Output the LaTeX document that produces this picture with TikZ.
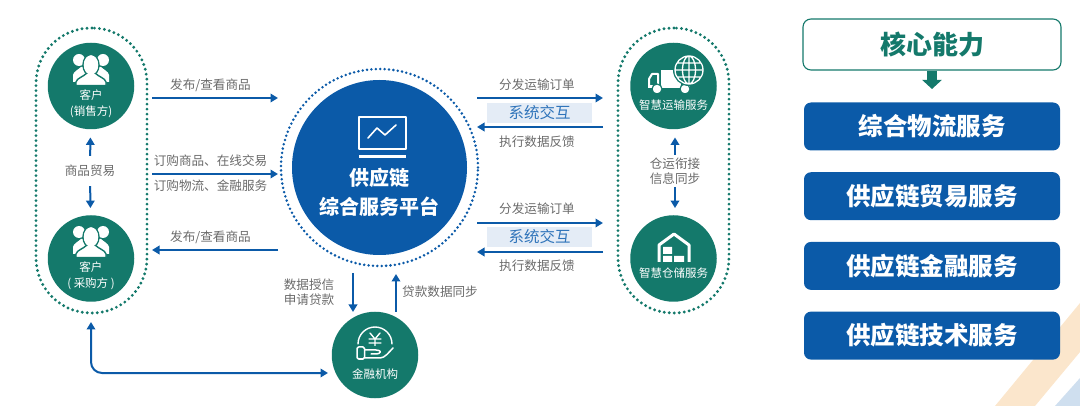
\documentclass[tikz,border=0pt]{standalone}
\usepackage{fontspec}
\setmainfont{Noto Sans CJK SC}
\usetikzlibrary{positioning,arrows.meta}
\definecolor{scteal}{HTML}{14796B}
\definecolor{scblue}{HTML}{0B5AA8}
\definecolor{scgrey}{HTML}{6A6A6A}
\definecolor{scpale}{HTML}{E4ECF6}
\definecolor{scmid}{HTML}{2F74BA}
\definecolor{scorange}{HTML}{FBE6CC}
\definecolor{scsky}{HTML}{CFDFEF}
\tikzset{
    link/.style={draw=scblue,line width=2pt,-{Triangle[length=7.5pt,width=8.5pt]}},
    capsule/.style={draw=scteal,line width=3.2pt,line cap=round,dash pattern=on 0pt off 5pt,
        minimum width=111pt,minimum height=285pt,rounded corners=55pt,inner sep=0pt},
    ring/.style={circle,draw=scblue,line width=2.8pt,line cap=round,dash pattern=on 0pt off 4.4pt,
        minimum size=197pt,inner sep=0pt},
    hub/.style={circle,fill=scblue,minimum size=175pt,inner sep=0pt},
    party/.style={circle,fill=scteal,minimum size=86.5pt,inner sep=0pt},
    partytext/.style={text=white,align=center,inner sep=0pt,font=\fontsize{11.5}{16.5}\selectfont},
    hubtext/.style={text=white,align=center,inner sep=0pt,font=\fontsize{20}{29}\selectfont\bfseries},
    note/.style={text=scgrey,align=center,inner sep=0pt,font=\fontsize{12.6}{15}\selectfont},
    syncbar/.style={fill=scpale,text=scmid,minimum width=105pt,minimum height=20pt,inner sep=0pt,
        font=\fontsize{15.5}{18}\selectfont},
    corebox/.style={draw=scteal,line width=1.1pt,fill=white,text=scteal,rounded corners=8pt,
        minimum width=258pt,minimum height=51pt,inner sep=0pt,font=\fontsize{26}{30}\selectfont\bfseries},
    service/.style={fill=scblue,text=white,rounded corners=7pt,minimum width=256pt,minimum height=48pt,
        inner sep=0pt,font=\fontsize{24.5}{28}\selectfont\bfseries},
    icon/.style={draw=white,line width=1.6pt,line join=round,line cap=round},
    people/.pic={
        \fill[white] (-12,-10) circle[radius=6pt] (12,-10) circle[radius=6pt];
        \fill[white] (-18,12) -- (-18,5) .. controls (-17,1) and (-13,0) .. (-10,-3)
            -- (10,-3) .. controls (13,0) and (17,1) .. (18,5) -- (18,12) -- cycle;
        \filldraw[fill=white,draw=scteal,line width=1.4pt] (0,-5) ellipse[x radius=8pt,y radius=10.5pt];
        \filldraw[fill=white,draw=scteal,line width=1.4pt] (-15,15.5) -- (-15,12) .. controls (-14,8) and (-8,7) .. (-4,3)
            -- (4,3) .. controls (8,7) and (14,8) .. (15,12) -- (15,15.5) -- cycle;
        \fill[white] (0,-5) ellipse[x radius=7.2pt,y radius=9.6pt];
    },
}

\begin{document}
\begin{tikzpicture}[x=1pt,y=-1pt,on grid]
    \useasboundingbox (0,0) rectangle (1080,406);
    \fill[scorange] (995,406) -- (1080,303) -- (1080,352) -- (1035,406) -- cycle;
    \fill[scsky] (1055,406) -- (1080,378) -- (1080,406) -- cycle;

    % left and right groups
    \node[capsule] (sellers) at (91.5,170.5) {};
    \node[capsule] (carriers) at (673.5,170.5) {};
    \node[party] (seller) at (91,86) {};
    \node[party,below=172.5pt of seller] (buyer) {};
    \node[party] (transport) at (673.5,86) {};
    \node[party,below=172.5pt of transport] (storage) {};
    \node[partytext,below=17.5pt of seller] (sellertext) {客户\\(销售方)};
    \node[partytext,below=17pt of buyer] (buyertext) {客户\\( 采购方 )};
    \node[partytext,below=19pt of transport] (transporttext) {智慧运输服务};
    \node[partytext,below=15pt of storage] (storagetext) {智慧仓储服务};
    \pic (sellericon) at (91,70) {people};
    \pic (buyericon) at (91,242) {people};

    % platform
    \node[ring] (hubring) at (379.5,167.5) {};
    \node[hub] (hub) at (379.5,167.5) {};
    \node[hubtext,below=25pt of hub] (hubtext) {供应链\\综合服务平台};
    \node[party] (bank) at (375,355) {};
    \node[partytext,below=19pt of bank] (banktext) {金融机构};

    % monitor
    \draw[icon,line width=2pt] (359,117) rectangle (406,149);
    \draw[icon,line width=3pt,line cap=butt] (359,157) -- (406,157);
    \draw[icon] (368,138) -- (377,128) -- (385,135) -- (396,125);

    % truck and globe
    \fill[white] (661,70) rectangle (681,87);
    \draw[icon,line width=2pt] (649,87) -- (649,79) -- (652,74) -- (658,74) -- (658,87) -- cycle;
    \fill[white] (648,85) rectangle (690,88);
    \filldraw[fill=white,draw=scteal,line width=1.2pt] (657,89) circle[radius=5pt] (685,89) circle[radius=5pt];
    \filldraw[fill=scteal,draw=scteal,line width=4pt] (689,70) circle[radius=14pt];
    \draw[icon,line width=1.3pt] (689,70) circle[radius=14pt] (689,70) ellipse[x radius=6.5pt,y radius=14pt]
        (689,56) -- (689,84) (675,70) -- (703,70) (677,63) -- (701,63) (677,77) -- (701,77);

    % warehouse
    \draw[icon,line width=3pt,line cap=butt] (659,262) -- (659,245) -- (674,234) -- (689,245) -- (689,262);
    \fill[white] (663,247) rectangle (672,254) (663,256) rectangle (672,262) (674,256) rectangle (684,262);

    % yen in a hand
    \draw[icon,line width=1.4pt] (358,344) arc[start angle=180,end angle=0,radius=17pt];
    \draw[icon,line width=1.4pt] (370,333) -- (375,339) -- (380,333) (375,339) -- (375,347) (369,339) -- (381,339) (369,343) -- (381,343);
    \fill[scteal] (354,346) rectangle (396,362);
    \draw[icon,line width=1.5pt,rounded corners=1.5pt] (357,347) rectangle (364.5,359);
    \draw[icon,line width=1.5pt] (365,350) -- (376,350) .. controls (382,350) and (382,354) .. (375,354) -- (371,354);
    \draw[icon,line width=1.5pt] (365,358) -- (380,358) .. controls (385,358) and (389,352) .. (393,348);

    % free ends
    \coordinate (pubA) at (152,98);
    \coordinate (pubB) at (278,98);
    \coordinate (orderA) at (152,174);
    \coordinate (orderB) at (278,174);
    \coordinate (backA) at (278,250);
    \coordinate (backB) at (152,250);
    \coordinate (tranA) at (477,98);
    \coordinate (tranB) at (603,98);
    \coordinate (tranC) at (603,127);
    \coordinate (tranD) at (477,127);
    \coordinate (storA) at (477,223);
    \coordinate (storB) at (603,223);
    \coordinate (storC) at (603,252);
    \coordinate (storD) at (477,252);
    \coordinate (credA) at (353,273);
    \coordinate (credB) at (353,312);
    \coordinate (loanA) at (396,312);
    \coordinate (loanB) at (396,274);
    \coordinate (payA) at (91,322);
    \coordinate (payB) at (328,373);

    % middle boxes and labels
    \node[syncbar] (syncup) at (539.5,113) {系统交互};
    \node[syncbar] (syncdown) at (539.5,237) {系统交互};
    \node[note] (noteA) at (210.5,85) {发布/查看商品};
    \node[note,below=76pt of noteA] (noteB) {订购商品、在线交易};
    \node[note,below=25pt of noteB] (noteC) {订购物流、金融服务};
    \node[note,below=152pt of noteA] (noteD) {发布/查看商品};
    \node[note] (tradenote) at (90,171) {商品贸易};
    \node[note] (syncnote) at (675,171) {仓运衔接\\信息同步};
    \node[note] (notetA) at (537,85) {分发运输订单};
    \node[note,below=57pt of notetA] (notetB) {执行数据反馈};
    \node[note] (notesA) at (537,209) {分发运输订单};
    \node[note,below=57pt of notesA] (notesB) {执行数据反馈};
    \node[note] (notecred) at (309,292.5) {数据授信\\申请贷款};
    \node[note] (noteloan) at (440,292) {贷款数据同步};

    \draw[link] (pubA) -- (pubB);
    \draw[link] (orderA) -- (orderB);
    \draw[link] (backA) -- (backB);
    \draw[link] (tranA) -- (tranB);
    \draw[link] (tranC) -- (tranD);
    \draw[link] (storA) -- (storB);
    \draw[link] (storC) -- (storD);
    \draw[link] (credA) -- (credB);
    \draw[link] (loanA) -- (loanB);
    \draw[link,shorten >=8pt,shorten <=9pt] (tradenote) -- (seller);
    \draw[link,shorten >=7pt,shorten <=9pt] (tradenote) -- (buyer);
    \draw[link,shorten >=8pt,shorten <=16pt] (syncnote.center) -- (syncnote.center |- transport.south);
    \draw[link,shorten >=7pt,shorten <=16pt] (syncnote.center) -- (syncnote.center |- storage.north);
    \draw[link,{Triangle[length=7.5pt,width=8.5pt]}-{Triangle[length=7.5pt,width=8.5pt]},rounded corners=11pt] (payA) |- (payB);

    % core abilities
    \node[corebox] (core) at (932,44.5) {核心能力};
    \coordinate (coretip) at (932,89);
    \draw[scteal,line width=10.5pt,-{Triangle[length=9pt,width=19pt]}] (core.south) -- (coretip);
    \node[service] (logistics) at (932,126.5) {综合物流服务};
    \node[service,below=69.7pt of logistics] (trade) {供应链贸易服务};
    \node[service,below=69.7pt of trade] (finance) {供应链金融服务};
    \node[service,below=69.7pt of finance] (tech) {供应链技术服务};
\end{tikzpicture}
\end{document}
